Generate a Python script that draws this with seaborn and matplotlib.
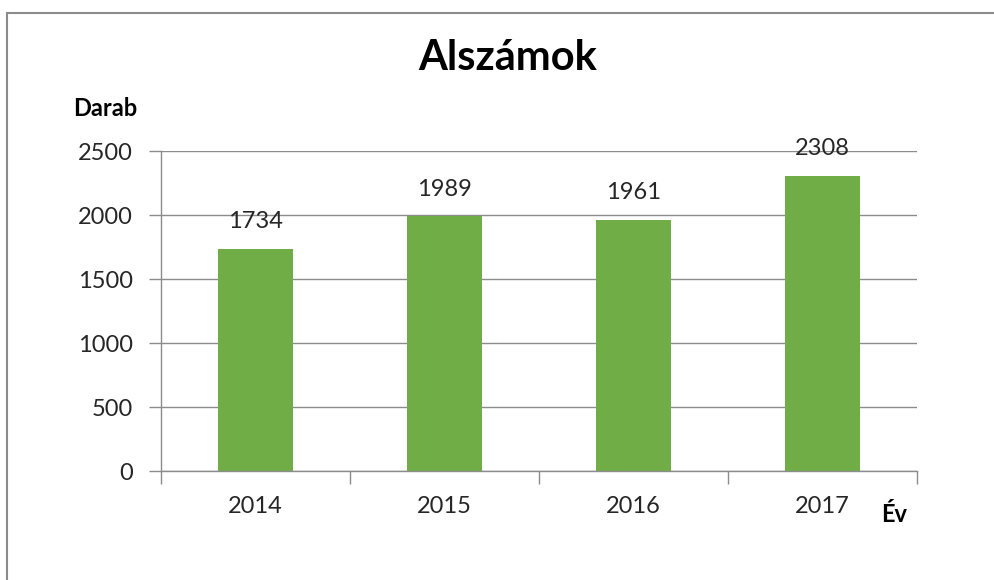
import matplotlib
matplotlib.use("Agg")
import matplotlib.pyplot as plt
from matplotlib.lines import Line2D
import seaborn as sns
import pandas as pd

years = ["2014", "2015", "2016", "2017"]
values = [1734, 1989, 1961, 2308]
yticks = [0, 500, 1000, 1500, 2000, 2500]
title = "Alszámok"
ylabel = "Darab"
xlabel = "Év"

sns.set_style("white")
plt.rcParams["font.family"] = ["Lato", "DejaVu Sans"]

df = pd.DataFrame({"year": years, "value": values})

fig = plt.figure(figsize=(9.94, 5.80), dpi=100)
ax = fig.add_axes([161 / 994, 1 - 471 / 580, (917 - 161) / 994, (471 - 151) / 580])

sns.barplot(data=df, x="year", y="value", color="#70AD47", width=0.4,
            saturation=1, ax=ax, edgecolor="none")

ax.set_xlim(-0.5, 3.5)
ax.set_ylim(0, 2500)
ax.set_yticks(yticks)
ax.set_yticklabels([str(t) for t in yticks])
ax.yaxis.grid(True, color="#8C8C8C", linewidth=1)
ax.set_axisbelow(True)
ax.set_xlabel("")
ax.set_ylabel("")

for s in ["top", "right"]:
    ax.spines[s].set_visible(False)
for s in ["left", "bottom"]:
    ax.spines[s].set_color("#8C8C8C")
    ax.spines[s].set_linewidth(1)

ax.tick_params(axis="y", which="major", length=9, width=1, color="#8C8C8C",
               labelsize=17, labelcolor="#262626", pad=11, direction="out", left=True)
ax.tick_params(axis="x", which="major", length=0, labelsize=17, labelcolor="#262626", pad=18)
ax.set_xticks(range(len(years)), minor=False)
ax.set_xticks([i - 0.5 for i in range(len(years) + 1)], minor=True)
ax.tick_params(axis="x", which="minor", length=9, width=1, color="#8C8C8C",
               direction="out", bottom=True)

for i, v in enumerate(values):
    ax.annotate(str(v), (i, v), xytext=(0, 12), textcoords="offset points",
                ha="center", va="bottom", fontsize=17, color="#262626")

fig.text(508 / 994, 1 - 58 / 580, title, ha="center", va="center",
         fontsize=30, fontweight="bold", color="black")
fig.text(105 / 994, 1 - 109 / 580, ylabel, ha="center", va="center",
         fontsize=17, fontweight="bold", color="black")
fig.text(894 / 994, 1 - 514 / 580, xlabel, ha="center", va="center",
         fontsize=17, fontweight="bold", color="black")

fig.add_artist(Line2D([6.5 / 994, 1.0], [1 - 12.5 / 580] * 2, transform=fig.transFigure,
                      color="#8C8C8C", linewidth=1.5))
fig.add_artist(Line2D([6.5 / 994] * 2, [0.0, 1 - 12.5 / 580], transform=fig.transFigure,
                      color="#8C8C8C", linewidth=1.5))

fig.savefig("out.png", dpi=100, facecolor="white")
